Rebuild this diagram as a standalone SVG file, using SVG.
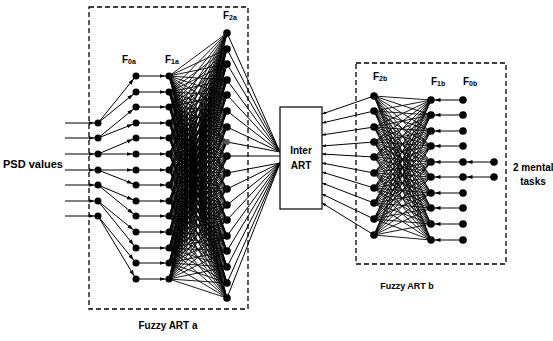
<svg xmlns="http://www.w3.org/2000/svg" width="553" height="341" viewBox="0 0 553 341">
<style>
text{font-family:"Liberation Sans",Arial,sans-serif;font-weight:bold;fill:#000}
.c{stroke:#000;stroke-width:1;fill:none}
.t{stroke:#000;stroke-width:0.9;fill:none}
.a{stroke:#000;stroke-width:1;fill:none;marker-end:url(#ah)}
.d{stroke:#000;stroke-width:1.3;fill:none;stroke-dasharray:5 3}
.n{fill:#000}
.s{font-size:7px}
</style>
<defs>
<marker id="ah" markerWidth="10" markerHeight="6" refX="9.5" refY="2" orient="auto" markerUnits="userSpaceOnUse"><path d="M0,0L6,2L0,4z"/></marker>
<marker id="ab" markerWidth="6" markerHeight="4" refX="4" refY="1.5" orient="auto" markerUnits="userSpaceOnUse"><path d="M0,0L4,1.5L0,3z"/></marker>
</defs>
<rect class="d" x="89" y="7" width="159" height="302"/>
<rect class="d" x="356" y="63" width="150" height="201"/>
<g id="connectors">
<g class="a">
<path d="M65 123H98"/><path d="M65 138H98"/><path d="M65 154H98"/><path d="M65 170H98"/><path d="M65 185H98"/><path d="M65 201H98"/><path d="M65 216H98"/>
<path d="M98 123L136 76"/><path d="M98 123L136 92"/>
<path d="M98 138L136 107"/><path d="M98 138L136 123"/>
<path d="M98 154L136 138"/><path d="M98 154L136 154"/>
<path d="M98 170L136 170"/><path d="M98 170L136 185"/>
<path d="M98 185L136 201"/><path d="M98 185L136 216"/>
<path d="M98 201L136 232"/><path d="M98 201L136 248"/>
<path d="M98 216L136 263"/><path d="M98 216L136 279"/>
<path d="M136 76H169"/><path d="M136 92H169"/><path d="M136 107H169"/><path d="M136 123H169"/><path d="M136 138H169"/><path d="M136 154H169"/><path d="M136 170H169"/><path d="M136 185H169"/><path d="M136 201H169"/><path d="M136 216H169"/><path d="M136 232H169"/><path d="M136 248H169"/><path d="M136 263H169"/><path d="M136 279H169"/>
<path d="M463 100H431"/><path d="M463 115H431"/><path d="M463 131H431"/><path d="M463 146H431"/><path d="M463 162H431"/><path d="M463 177H431"/><path d="M463 193H431"/><path d="M463 208H431"/><path d="M463 224H431"/><path d="M463 240H431"/>
<path d="M494 162H463"/><path d="M494 177H463"/>
</g>
<g class="t">
<path d="M169 76L227 33M169 76L227 49M169 76L227 64M169 76L227 80M169 76L227 95M169 76L227 111M169 76L227 127M169 76L227 142M169 76L227 158M169 76L227 173M169 76L227 189M169 76L227 205M169 76L227 220M169 76L227 236M169 76L227 251M169 76L227 267M169 76L227 283M169 76L227 298"/>
<path d="M169 92L227 33M169 92L227 49M169 92L227 64M169 92L227 80M169 92L227 95M169 92L227 111M169 92L227 127M169 92L227 142M169 92L227 158M169 92L227 173M169 92L227 189M169 92L227 205M169 92L227 220M169 92L227 236M169 92L227 251M169 92L227 267M169 92L227 283M169 92L227 298"/>
<path d="M169 107L227 33M169 107L227 49M169 107L227 64M169 107L227 80M169 107L227 95M169 107L227 111M169 107L227 127M169 107L227 142M169 107L227 158M169 107L227 173M169 107L227 189M169 107L227 205M169 107L227 220M169 107L227 236M169 107L227 251M169 107L227 267M169 107L227 283M169 107L227 298"/>
<path d="M169 123L227 33M169 123L227 49M169 123L227 64M169 123L227 80M169 123L227 95M169 123L227 111M169 123L227 127M169 123L227 142M169 123L227 158M169 123L227 173M169 123L227 189M169 123L227 205M169 123L227 220M169 123L227 236M169 123L227 251M169 123L227 267M169 123L227 283M169 123L227 298"/>
<path d="M169 138L227 33M169 138L227 49M169 138L227 64M169 138L227 80M169 138L227 95M169 138L227 111M169 138L227 127M169 138L227 142M169 138L227 158M169 138L227 173M169 138L227 189M169 138L227 205M169 138L227 220M169 138L227 236M169 138L227 251M169 138L227 267M169 138L227 283M169 138L227 298"/>
<path d="M169 154L227 33M169 154L227 49M169 154L227 64M169 154L227 80M169 154L227 95M169 154L227 111M169 154L227 127M169 154L227 142M169 154L227 158M169 154L227 173M169 154L227 189M169 154L227 205M169 154L227 220M169 154L227 236M169 154L227 251M169 154L227 267M169 154L227 283M169 154L227 298"/>
<path d="M169 170L227 33M169 170L227 49M169 170L227 64M169 170L227 80M169 170L227 95M169 170L227 111M169 170L227 127M169 170L227 142M169 170L227 158M169 170L227 173M169 170L227 189M169 170L227 205M169 170L227 220M169 170L227 236M169 170L227 251M169 170L227 267M169 170L227 283M169 170L227 298"/>
<path d="M169 185L227 33M169 185L227 49M169 185L227 64M169 185L227 80M169 185L227 95M169 185L227 111M169 185L227 127M169 185L227 142M169 185L227 158M169 185L227 173M169 185L227 189M169 185L227 205M169 185L227 220M169 185L227 236M169 185L227 251M169 185L227 267M169 185L227 283M169 185L227 298"/>
<path d="M169 201L227 33M169 201L227 49M169 201L227 64M169 201L227 80M169 201L227 95M169 201L227 111M169 201L227 127M169 201L227 142M169 201L227 158M169 201L227 173M169 201L227 189M169 201L227 205M169 201L227 220M169 201L227 236M169 201L227 251M169 201L227 267M169 201L227 283M169 201L227 298"/>
<path d="M169 216L227 33M169 216L227 49M169 216L227 64M169 216L227 80M169 216L227 95M169 216L227 111M169 216L227 127M169 216L227 142M169 216L227 158M169 216L227 173M169 216L227 189M169 216L227 205M169 216L227 220M169 216L227 236M169 216L227 251M169 216L227 267M169 216L227 283M169 216L227 298"/>
<path d="M169 232L227 33M169 232L227 49M169 232L227 64M169 232L227 80M169 232L227 95M169 232L227 111M169 232L227 127M169 232L227 142M169 232L227 158M169 232L227 173M169 232L227 189M169 232L227 205M169 232L227 220M169 232L227 236M169 232L227 251M169 232L227 267M169 232L227 283M169 232L227 298"/>
<path d="M169 248L227 33M169 248L227 49M169 248L227 64M169 248L227 80M169 248L227 95M169 248L227 111M169 248L227 127M169 248L227 142M169 248L227 158M169 248L227 173M169 248L227 189M169 248L227 205M169 248L227 220M169 248L227 236M169 248L227 251M169 248L227 267M169 248L227 283M169 248L227 298"/>
<path d="M169 263L227 33M169 263L227 49M169 263L227 64M169 263L227 80M169 263L227 95M169 263L227 111M169 263L227 127M169 263L227 142M169 263L227 158M169 263L227 173M169 263L227 189M169 263L227 205M169 263L227 220M169 263L227 236M169 263L227 251M169 263L227 267M169 263L227 283M169 263L227 298"/>
<path d="M169 279L227 33M169 279L227 49M169 279L227 64M169 279L227 80M169 279L227 95M169 279L227 111M169 279L227 127M169 279L227 142M169 279L227 158M169 279L227 173M169 279L227 189M169 279L227 205M169 279L227 220M169 279L227 236M169 279L227 251M169 279L227 267M169 279L227 283M169 279L227 298"/>
</g>
<g class="c">
<path d="M227 33L280 152M227 49L280 152M227 64L280 152M227 80L280 152M227 95L280 152M227 111L280 152M227 127L280 152M227 142L280 152M227 156H280M227 173L280 163M227 189L280 163M227 205L280 163M227 220L280 163M227 236L280 163M227 251L280 163M227 267L280 163M227 283L280 163M227 298L280 163"/>
</g>
<g class="c" style="marker-end:url(#ab)">
<path d="M374 96L322 114"/><path d="M374 111L322 123"/><path d="M374 127L322 135"/><path d="M374 142L322 146"/><path d="M374 157L322 154"/><path d="M374 173L322 163"/><path d="M374 188L322 172"/><path d="M374 203L322 183"/><path d="M374 219L322 194"/><path d="M374 235L322 203"/>
</g>
<g class="t">
<path d="M374 96L431 100M374 96L431 115M374 96L431 131M374 96L431 146M374 96L431 162M374 96L431 177M374 96L431 193M374 96L431 208M374 96L431 224M374 96L431 240"/>
<path d="M374 111L431 100M374 111L431 115M374 111L431 131M374 111L431 146M374 111L431 162M374 111L431 177M374 111L431 193M374 111L431 208M374 111L431 224M374 111L431 240"/>
<path d="M374 127L431 100M374 127L431 115M374 127L431 131M374 127L431 146M374 127L431 162M374 127L431 177M374 127L431 193M374 127L431 208M374 127L431 224M374 127L431 240"/>
<path d="M374 142L431 100M374 142L431 115M374 142L431 131M374 142L431 146M374 142L431 162M374 142L431 177M374 142L431 193M374 142L431 208M374 142L431 224M374 142L431 240"/>
<path d="M374 157L431 100M374 157L431 115M374 157L431 131M374 157L431 146M374 157L431 162M374 157L431 177M374 157L431 193M374 157L431 208M374 157L431 224M374 157L431 240"/>
<path d="M374 173L431 100M374 173L431 115M374 173L431 131M374 173L431 146M374 173L431 162M374 173L431 177M374 173L431 193M374 173L431 208M374 173L431 224M374 173L431 240"/>
<path d="M374 188L431 100M374 188L431 115M374 188L431 131M374 188L431 146M374 188L431 162M374 188L431 177M374 188L431 193M374 188L431 208M374 188L431 224M374 188L431 240"/>
<path d="M374 203L431 100M374 203L431 115M374 203L431 131M374 203L431 146M374 203L431 162M374 203L431 177M374 203L431 193M374 203L431 208M374 203L431 224M374 203L431 240"/>
<path d="M374 219L431 100M374 219L431 115M374 219L431 131M374 219L431 146M374 219L431 162M374 219L431 177M374 219L431 193M374 219L431 208M374 219L431 224M374 219L431 240"/>
<path d="M374 235L431 100M374 235L431 115M374 235L431 131M374 235L431 146M374 235L431 162M374 235L431 177M374 235L431 193M374 235L431 208M374 235L431 224M374 235L431 240"/>
</g>
</g>
<g id="inter-art"><rect x="280" y="107" width="42" height="102" fill="#fff" stroke="#000" stroke-width="1.2"/><text x="301" y="154" font-size="10" text-anchor="middle">Inter</text><text x="301" y="169" font-size="10" text-anchor="middle">ART</text></g>
<g class="n">
<g id="in1"><circle cx="98" cy="123" r="3.5"/></g><g id="in2"><circle cx="98" cy="138" r="3.5"/></g><g id="in3"><circle cx="98" cy="154" r="3.5"/></g><g id="in4"><circle cx="98" cy="170" r="3.5"/></g><g id="in5"><circle cx="98" cy="185" r="3.5"/></g><g id="in6"><circle cx="98" cy="201" r="3.5"/></g><g id="in7"><circle cx="98" cy="216" r="3.5"/></g>
<g id="f0a1"><circle cx="136" cy="76" r="3.5"/></g><g id="f0a2"><circle cx="136" cy="92" r="3.5"/></g><g id="f0a3"><circle cx="136" cy="107" r="3.5"/></g><g id="f0a4"><circle cx="136" cy="123" r="3.5"/></g><g id="f0a5"><circle cx="136" cy="138" r="3.5"/></g><g id="f0a6"><circle cx="136" cy="154" r="3.5"/></g><g id="f0a7"><circle cx="136" cy="170" r="3.5"/></g><g id="f0a8"><circle cx="136" cy="185" r="3.5"/></g><g id="f0a9"><circle cx="136" cy="201" r="3.5"/></g><g id="f0a10"><circle cx="136" cy="216" r="3.5"/></g><g id="f0a11"><circle cx="136" cy="232" r="3.5"/></g><g id="f0a12"><circle cx="136" cy="248" r="3.5"/></g><g id="f0a13"><circle cx="136" cy="263" r="3.5"/></g><g id="f0a14"><circle cx="136" cy="279" r="3.5"/></g>
<g id="f1a1"><circle cx="169" cy="76" r="3.5"/></g><g id="f1a2"><circle cx="169" cy="92" r="3.5"/></g><g id="f1a3"><circle cx="169" cy="107" r="3.5"/></g><g id="f1a4"><circle cx="169" cy="123" r="3.5"/></g><g id="f1a5"><circle cx="169" cy="138" r="3.5"/></g><g id="f1a6"><circle cx="169" cy="154" r="3.5"/></g><g id="f1a7"><circle cx="169" cy="170" r="3.5"/></g><g id="f1a8"><circle cx="169" cy="185" r="3.5"/></g><g id="f1a9"><circle cx="169" cy="201" r="3.5"/></g><g id="f1a10"><circle cx="169" cy="216" r="3.5"/></g><g id="f1a11"><circle cx="169" cy="232" r="3.5"/></g><g id="f1a12"><circle cx="169" cy="248" r="3.5"/></g><g id="f1a13"><circle cx="169" cy="263" r="3.5"/></g><g id="f1a14"><circle cx="169" cy="279" r="3.5"/></g>
<g id="f2a1"><circle cx="227" cy="33" r="3.8"/></g><g id="f2a2"><circle cx="227" cy="49" r="3.8"/></g><g id="f2a3"><circle cx="227" cy="64" r="3.8"/></g><g id="f2a4"><circle cx="227" cy="80" r="3.8"/></g><g id="f2a5"><circle cx="227" cy="95" r="3.8"/></g><g id="f2a6"><circle cx="227" cy="111" r="3.8"/></g><g id="f2a7"><circle cx="227" cy="127" r="3.8"/></g><g id="f2a8"><circle cx="227" cy="142" r="3" fill="#555"/></g><g id="f2a9"><circle cx="227" cy="156" r="3.8"/></g><g id="f2a10"><circle cx="227" cy="173" r="3.8"/></g><g id="f2a11"><circle cx="227" cy="189" r="3.8"/></g><g id="f2a12"><circle cx="227" cy="205" r="3.8"/></g><g id="f2a13"><circle cx="227" cy="220" r="3.8"/></g><g id="f2a14"><circle cx="227" cy="236" r="3.8"/></g><g id="f2a15"><circle cx="227" cy="251" r="3.8"/></g><g id="f2a16"><circle cx="227" cy="267" r="3.8"/></g><g id="f2a17"><circle cx="227" cy="283" r="3.8"/></g><g id="f2a18"><circle cx="227" cy="298" r="3.8"/></g>
<g id="f2b1"><circle cx="374" cy="96" r="3.8"/></g><g id="f2b2"><circle cx="374" cy="111" r="3.8"/></g><g id="f2b3"><circle cx="374" cy="127" r="3.8"/></g><g id="f2b4"><circle cx="374" cy="142" r="3.8"/></g><g id="f2b5"><circle cx="374" cy="157" r="3.8"/></g><g id="f2b6"><circle cx="374" cy="173" r="3.8"/></g><g id="f2b7"><circle cx="374" cy="188" r="3.8"/></g><g id="f2b8"><circle cx="374" cy="203" r="3.8"/></g><g id="f2b9"><circle cx="374" cy="219" r="3.8"/></g><g id="f2b10"><circle cx="374" cy="235" r="3.8"/></g>
<g id="f1b1"><circle cx="431" cy="100" r="3.8"/></g><g id="f1b2"><circle cx="431" cy="115" r="3.8"/></g><g id="f1b3"><circle cx="431" cy="131" r="3.8"/></g><g id="f1b4"><circle cx="431" cy="146" r="3.8"/></g><g id="f1b5"><circle cx="431" cy="162" r="3.8"/></g><g id="f1b6"><circle cx="431" cy="177" r="3.8"/></g><g id="f1b7"><circle cx="431" cy="193" r="3.8"/></g><g id="f1b8"><circle cx="431" cy="208" r="3.8"/></g><g id="f1b9"><circle cx="431" cy="224" r="3.8"/></g><g id="f1b10"><circle cx="431" cy="240" r="3.8"/></g>
<g id="f0b1"><circle cx="463" cy="100" r="3.8"/></g><g id="f0b2"><circle cx="463" cy="115" r="3.8"/></g><g id="f0b3"><circle cx="463" cy="131" r="3.8"/></g><g id="f0b4"><circle cx="463" cy="146" r="3.8"/></g><g id="f0b5"><circle cx="463" cy="162" r="3.8"/></g><g id="f0b6"><circle cx="463" cy="177" r="3.8"/></g><g id="f0b7"><circle cx="463" cy="193" r="3.8"/></g><g id="f0b8"><circle cx="463" cy="208" r="3.8"/></g><g id="f0b9"><circle cx="463" cy="224" r="3.8"/></g><g id="f0b10"><circle cx="463" cy="240" r="3.8"/></g>
<g id="task1"><circle cx="494" cy="162" r="3.8"/></g><g id="task2"><circle cx="494" cy="177" r="3.8"/></g>
</g>
<g id="labels">
<text x="3" y="168" font-size="11">PSD values</text>
<text x="122" y="63" font-size="10">F<tspan class="s" dy="1">0a</tspan></text>
<text x="165" y="63" font-size="10">F<tspan class="s" dy="1">1a</tspan></text>
<text x="223" y="19" font-size="10">F<tspan class="s" dy="1">2a</tspan></text>
<text x="373" y="80" font-size="10">F<tspan class="s" dy="1">2b</tspan></text>
<text x="431" y="85" font-size="10">F<tspan class="s" dy="1">1b</tspan></text>
<text x="463" y="85" font-size="10">F<tspan class="s" dy="1">0b</tspan></text>
<text x="168" y="329" font-size="10" text-anchor="middle">Fuzzy ART a</text>
<text x="407" y="289" font-size="9" text-anchor="middle">Fuzzy ART b</text>
<text x="513" y="171" font-size="10">2 mental</text>
<text x="533" y="185" font-size="10" text-anchor="middle">tasks</text>
</g>
</svg>
